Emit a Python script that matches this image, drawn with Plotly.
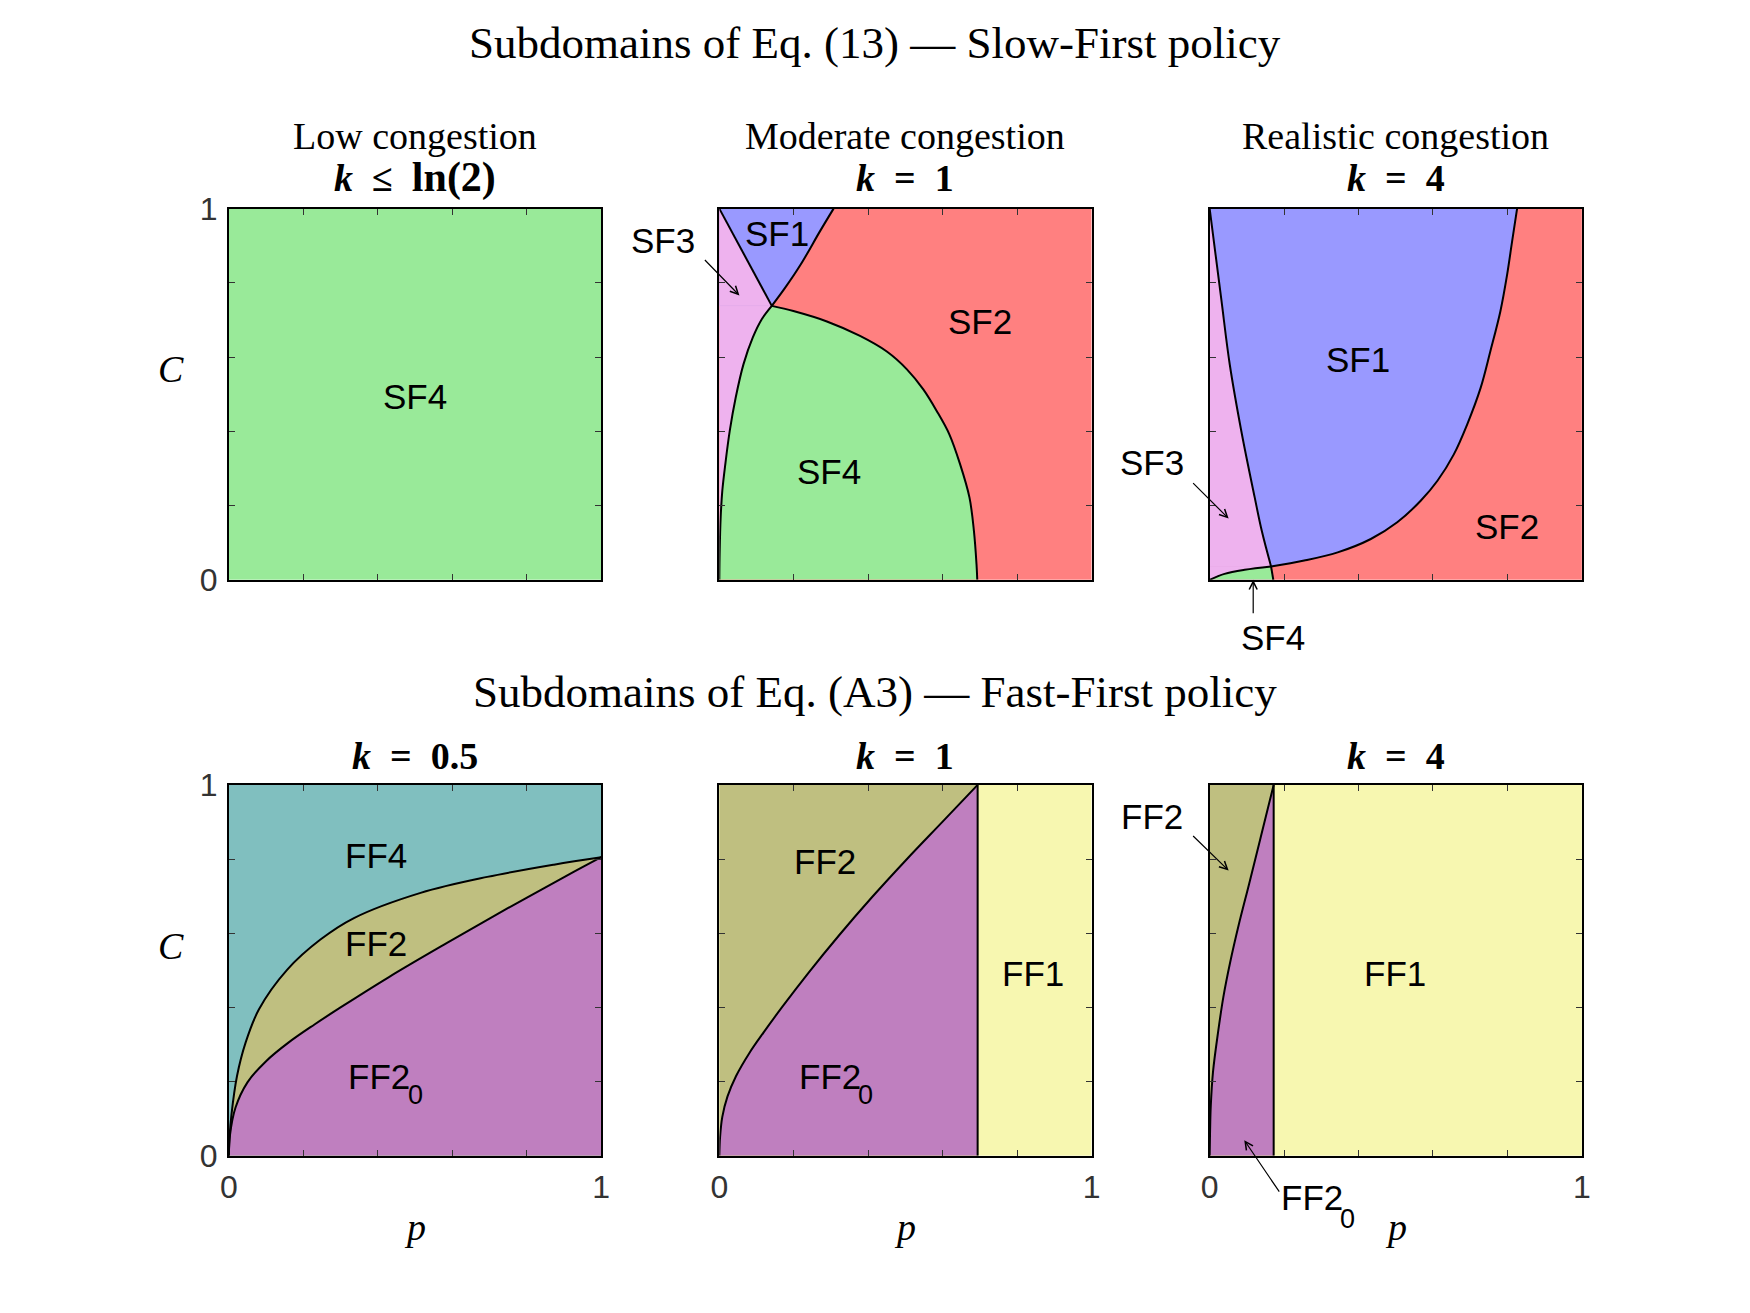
import plotly.graph_objects as go

# ---------------- data ----------------
sf_top = ["Low congestion", "Moderate congestion", "Realistic congestion"]
sf_k = ["<b><i>k</i>\u2002≤\u2002<span style='font-size:42px'>ln(2)</span></b>",
        "<b><i>k</i>\u2002=\u20021</b>", "<b><i>k</i>\u2002=\u20024</b>"]
ff_k = ["<b><i>k</i>\u2002=\u20020.5</b>", "<b><i>k</i>\u2002=\u20021</b>", "<b><i>k</i>\u2002=\u20024</b>"]
tick_vals = [0, 0.2, 0.4, 0.6, 0.8, 1.0]
tick_text = ["0", "", "", "", "", "1"]

# SF, k = 1
sf_k1_sf3sf1_p = [0.0, 0.141]
sf_k1_sf3sf1_C = [1.0, 0.738]
sf_k1_sf1sf2_p = [0.141, 0.177, 0.219, 0.271, 0.307]
sf_k1_sf1sf2_C = [0.738, 0.787, 0.850, 0.940, 1.0]
sf_k1_sf3sf4_p = [0.0, 0.001, 0.0036, 0.008, 0.016, 0.028, 0.044, 0.065, 0.090, 0.114, 0.141]
sf_k1_sf3sf4_C = [0.0, 0.078, 0.168, 0.240, 0.311, 0.401, 0.491, 0.581, 0.653, 0.702, 0.738]
sf_k1_sf4sf2_p = [0.141, 0.199, 0.289, 0.378, 0.450, 0.504, 0.548, 0.584, 0.618, 0.647, 0.672, 0.684, 0.691, 0.693]
sf_k1_sf4sf2_C = [0.738, 0.724, 0.696, 0.657, 0.615, 0.567, 0.513, 0.455, 0.392, 0.311, 0.222, 0.132, 0.042, 0.0]

# SF, k = 4
sf_k4_sf3sf1_p = [0.165, 0.140, 0.121, 0.085, 0.054, 0.031, 0.0]
sf_k4_sf3sf1_C = [0.036, 0.132, 0.222, 0.401, 0.580, 0.758, 1.0]
sf_k4_sf1sf2_p = [0.165, 0.254, 0.344, 0.433, 0.504, 0.567, 0.612, 0.656, 0.692, 0.728, 0.754, 0.781, 0.799, 0.8125, 0.826]
sf_k4_sf1sf2_C = [0.036, 0.052, 0.074, 0.110, 0.155, 0.213, 0.267, 0.338, 0.419, 0.517, 0.615, 0.723, 0.821, 0.911, 1.0]
sf_k4_sf3sf4_p = [0.0, 0.040, 0.094, 0.165]
sf_k4_sf3sf4_C = [0.0, 0.016, 0.027, 0.036]
sf_k4_sf4sf2_p = [0.165, 0.171]
sf_k4_sf4sf2_C = [0.036, 0.0]

# FF, k = 0.5
ff_k05_ff4ff2_p = [0.0, 0.002, 0.007, 0.022, 0.045, 0.081, 0.157, 0.246, 0.336, 0.515, 0.694, 0.873, 1.0]
ff_k05_ff4ff2_C = [0.0, 0.05, 0.11, 0.215, 0.305, 0.395, 0.502, 0.583, 0.641, 0.709, 0.752, 0.785, 0.805]
ff_k05_ff2ff20_p = [0.0, 0.003, 0.018, 0.05, 0.10, 0.16, 0.23, 0.30, 0.43, 0.586, 0.748, 0.909, 1.0]
ff_k05_ff2ff20_C = [0.0, 0.055, 0.13, 0.198, 0.255, 0.305, 0.354, 0.400, 0.482, 0.574, 0.667, 0.756, 0.805]

# FF, k = 1
ff_k1_ff2ff20_p = [0.0, 0.002, 0.008, 0.022, 0.045, 0.08, 0.12, 0.168, 0.24, 0.323, 0.41, 0.503, 0.60, 0.694]
ff_k1_ff2ff20_C = [0.0, 0.05, 0.105, 0.16, 0.215, 0.276, 0.334, 0.40, 0.494, 0.596, 0.697, 0.799, 0.901, 1.0]
ff_k1_ff1_edge = 0.694

# FF, k = 4
ff_k4_ff2ff20_p = [0.0, 0.001, 0.003, 0.009, 0.023, 0.037, 0.055, 0.078, 0.106, 0.138, 0.172]
ff_k4_ff2ff20_C = [0.0, 0.06, 0.134, 0.226, 0.336, 0.429, 0.521, 0.622, 0.733, 0.862, 1.0]
ff_k4_ff1_edge = 0.172

# colours
C_SF1, C_SF2, C_SF3, C_SF4 = "#9999FF", "#FF8080", "#EEB2EE", "#99EA99"
C_FF1, C_FF2, C_FF20, C_FF4 = "#F7F7B0", "#BFBF80", "#BF7FBF", "#80BFBF"

# ---------------- layout geometry ----------------
W, H = 1750, 1313
col_dom = [(0.1223, 0.3373), (0.4055, 0.6204), (0.6886, 0.9035)]
row_dom = [(0.5663, 0.8570), (0.1153, 0.4057)]

SERIF = "Liberation Serif"
SANS = "Liberation Sans"

fig = go.Figure()


def ax_ids(r, c):
    n = r * 3 + c + 1
    return ("x" if n == 1 else f"x{n}"), ("y" if n == 1 else f"y{n}")


def area(r, c, ps, cs, color, fill, shape="spline"):
    xa, ya = ax_ids(r, c)
    fig.add_trace(go.Scatter(x=ps, y=cs, xaxis=xa, yaxis=ya, mode="lines", fill=fill,
                             fillcolor=color,
                             line=dict(width=0.6, color=color, shape=shape, smoothing=1.0,
                                       simplify=False),
                             hoverinfo="skip", showlegend=False))


def rect(r, c, p0, p1, c0, c1, color):
    area(r, c, [p0, p1, p1, p0, p0], [c0, c0, c1, c1, c0], color, "toself", "linear")


def bline(r, c, ps, cs, shape="spline"):
    xa, ya = ax_ids(r, c)
    fig.add_trace(go.Scatter(x=ps, y=cs, xaxis=xa, yaxis=ya, mode="lines",
                             line=dict(width=2, color="black", shape=shape, smoothing=1.0,
                                       simplify=False),
                             hoverinfo="skip", showlegend=False))


# Panel (0,0): SF, k <= ln 2
rect(0, 0, 0, 1, 0, 1, C_SF4)

# Panel (0,1): SF, k = 1
rect(0, 1, 0, 1, 0, 1, C_SF2)
area(0, 1, sf_k1_sf1sf2_p, sf_k1_sf1sf2_C, C_SF1, "tozerox")
area(0, 1, sf_k1_sf3sf4_p, sf_k1_sf3sf4_C, C_SF3, "tozerox")
area(0, 1, sf_k1_sf3sf1_p + [0.0, sf_k1_sf3sf1_p[0]], sf_k1_sf3sf1_C + [sf_k1_sf3sf1_C[1], sf_k1_sf3sf1_C[0]],
     C_SF3, "toself", "linear")
area(0, 1, sf_k1_sf3sf4_p + sf_k1_sf4sf2_p, sf_k1_sf3sf4_C + sf_k1_sf4sf2_C, C_SF4, "tozeroy")
bline(0, 1, sf_k1_sf3sf1_p, sf_k1_sf3sf1_C, "linear")
bline(0, 1, sf_k1_sf1sf2_p, sf_k1_sf1sf2_C)
bline(0, 1, sf_k1_sf3sf4_p, sf_k1_sf3sf4_C)
bline(0, 1, sf_k1_sf4sf2_p, sf_k1_sf4sf2_C)

# Panel (0,2): SF, k = 4
rect(0, 2, 0, 1, 0, 1, C_SF2)
area(0, 2, sf_k4_sf1sf2_p, sf_k4_sf1sf2_C, C_SF1, "tozerox")
area(0, 2, sf_k4_sf3sf1_p, sf_k4_sf3sf1_C, C_SF3, "tozerox")
rect(0, 2, 0, sf_k4_sf3sf4_p[-1], 0, sf_k4_sf3sf4_C[-1], C_SF3)
area(0, 2, sf_k4_sf3sf4_p + sf_k4_sf4sf2_p, sf_k4_sf3sf4_C + sf_k4_sf4sf2_C, C_SF4, "tozeroy")
bline(0, 2, sf_k4_sf3sf1_p, sf_k4_sf3sf1_C)
bline(0, 2, sf_k4_sf1sf2_p, sf_k4_sf1sf2_C)
bline(0, 2, sf_k4_sf3sf4_p, sf_k4_sf3sf4_C)
bline(0, 2, sf_k4_sf4sf2_p, sf_k4_sf4sf2_C, "linear")

# Panel (1,0): FF, k = 0.5
rect(1, 0, 0, 1, 0, 1, C_FF4)
area(1, 0, ff_k05_ff4ff2_p, ff_k05_ff4ff2_C, C_FF2, "tozeroy")
area(1, 0, ff_k05_ff2ff20_p, ff_k05_ff2ff20_C, C_FF20, "tozeroy")
bline(1, 0, ff_k05_ff4ff2_p, ff_k05_ff4ff2_C)
bline(1, 0, ff_k05_ff2ff20_p, ff_k05_ff2ff20_C)

# Panel (1,1): FF, k = 1
rect(1, 1, 0, 1, 0, 1, C_FF1)
rect(1, 1, 0, ff_k1_ff1_edge, 0, 1, C_FF2)
area(1, 1, ff_k1_ff2ff20_p, ff_k1_ff2ff20_C, C_FF20, "tozeroy")
bline(1, 1, ff_k1_ff2ff20_p, ff_k1_ff2ff20_C)
bline(1, 1, [ff_k1_ff1_edge, ff_k1_ff1_edge], [0, 1], "linear")

# Panel (1,2): FF, k = 4
rect(1, 2, 0, 1, 0, 1, C_FF1)
rect(1, 2, 0, ff_k4_ff1_edge, 0, 1, C_FF2)
area(1, 2, ff_k4_ff2ff20_p, ff_k4_ff2ff20_C, C_FF20, "tozeroy")
bline(1, 2, ff_k4_ff2ff20_p, ff_k4_ff2ff20_C)
bline(1, 2, [ff_k4_ff1_edge, ff_k4_ff1_edge], [0, 1], "linear")

# ---------------- axes ----------------
layout = dict(width=W, height=H, margin=dict(l=0, r=0, t=0, b=0),
              paper_bgcolor="white", plot_bgcolor="white", showlegend=False)
for r in range(2):
    for c in range(3):
        n = r * 3 + c + 1
        xk = "xaxis" if n == 1 else f"xaxis{n}"
        yk = "yaxis" if n == 1 else f"yaxis{n}"
        xa, ya = ax_ids(r, c)
        common = dict(range=[0, 1], showgrid=False, zeroline=False, showline=True,
                      linecolor="black", linewidth=2, mirror="ticks", ticks="inside",
                      ticklen=6, tickwidth=1.2, tickcolor="#333", tickvals=tick_vals,
                      ticktext=tick_text, fixedrange=True,
                      tickfont=dict(family=SANS, size=32, color="#333"))
        layout[xk] = dict(common, domain=list(col_dom[c]), anchor=ya,
                          showticklabels=(r == 1), ticklabelstandoff=2)
        layout[yk] = dict(common, domain=list(row_dom[r]), anchor=xa,
                          showticklabels=(c == 0), ticklabelstandoff=3)
fig.update_layout(**layout)


def to_paper(r, c, p, C):
    x0, x1 = col_dom[c]
    y0, y1 = row_dom[r]
    return x0 + p * (x1 - x0), y0 + C * (y1 - y0)


ann = []


def label(r, c, p, C, text, xanchor="center", size=35):
    x, y = to_paper(r, c, p, C)
    ann.append(dict(x=x, y=y, xref="paper", yref="paper", text=text, showarrow=False,
                    xanchor=xanchor, yanchor="middle",
                    font=dict(family=SANS, size=size, color="black")))


def arrow(r, c, p, C, dx, dy):
    xa, ya = ax_ids(r, c)
    ann.append(dict(x=p, y=C, xref=xa, yref=ya, text="", showarrow=True, ax=dx, ay=dy,
                    arrowhead=5, arrowsize=1.3, arrowwidth=1.2, arrowcolor="black", standoff=0))


def ptext(px, py, text, size, family=SERIF):
    ann.append(dict(x=px / W, y=1 - py / H, xref="paper", yref="paper", text=text,
                    showarrow=False, xanchor="center", yanchor="middle",
                    font=dict(family=family, size=size, color="black")))


# titles
ptext(867, 17, "Subdomains of Eq. (13) — Slow-First policy", 45)
ptext(867, 685, "Subdomains of Eq. (A3) — Fast-First policy", 45)
col_cx = [402.1, 897.7, 1393.2]
for c in range(3):
    ptext(col_cx[c], 113, sf_top[c], 38)
    ptext(col_cx[c], 156, sf_k[c], 38)
    ptext(col_cx[c], 751, ff_k[c], 38)
    ptext(col_cx[c], 1235, "<i>p</i>", 38)
ptext(155.5, 353, "<i>C</i>", 38)
ptext(155.5, 946, "<i>C</i>", 38)

# region labels
label(0, 0, 0.50, 0.494, "SF4")
label(0, 1, 0.156, 0.934, "SF1")
label(0, 1, 0.70, 0.695, "SF2")
label(0, 1, 0.296, 0.293, "SF4")
label(0, 1, -0.15, 0.915, "SF3")
arrow(0, 1, 0.054, 0.766, -36, -37)
label(0, 2, 0.398, 0.593, "SF1")
label(0, 2, 0.80, 0.144, "SF2")
label(0, 2, -0.156, 0.315, "SF3")
arrow(0, 2, 0.051, 0.165, -37, -37)
label(0, 2, 0.171, -0.156, "SF4")
arrow(0, 2, 0.117, 0.0, 0, 35)

label(1, 0, 0.395, 0.811, "FF4")
label(1, 0, 0.395, 0.572, "FF2")
label(1, 0, 0.315, 0.215, "FF2", xanchor="left")
label(1, 0, 0.501, 0.163, "0", size=27)
label(1, 1, 0.284, 0.793, "FF2")
label(1, 1, 0.844, 0.491, "FF1")
label(1, 1, 0.2076, 0.215, "FF2", xanchor="left")
label(1, 1, 0.392, 0.163, "0", size=27)
label(1, 2, 0.497, 0.491, "FF1")
label(1, 2, -0.156, 0.915, "FF2")
arrow(1, 2, 0.051, 0.769, -37, -36)
label(1, 2, 0.187, -0.113, "FF2", xanchor="left")
label(1, 2, 0.370, -0.170, "0", size=27)
arrow(1, 2, 0.093, 0.042, 36, 53)

fig.update_layout(annotations=ann)
fig.write_html("out.html")
